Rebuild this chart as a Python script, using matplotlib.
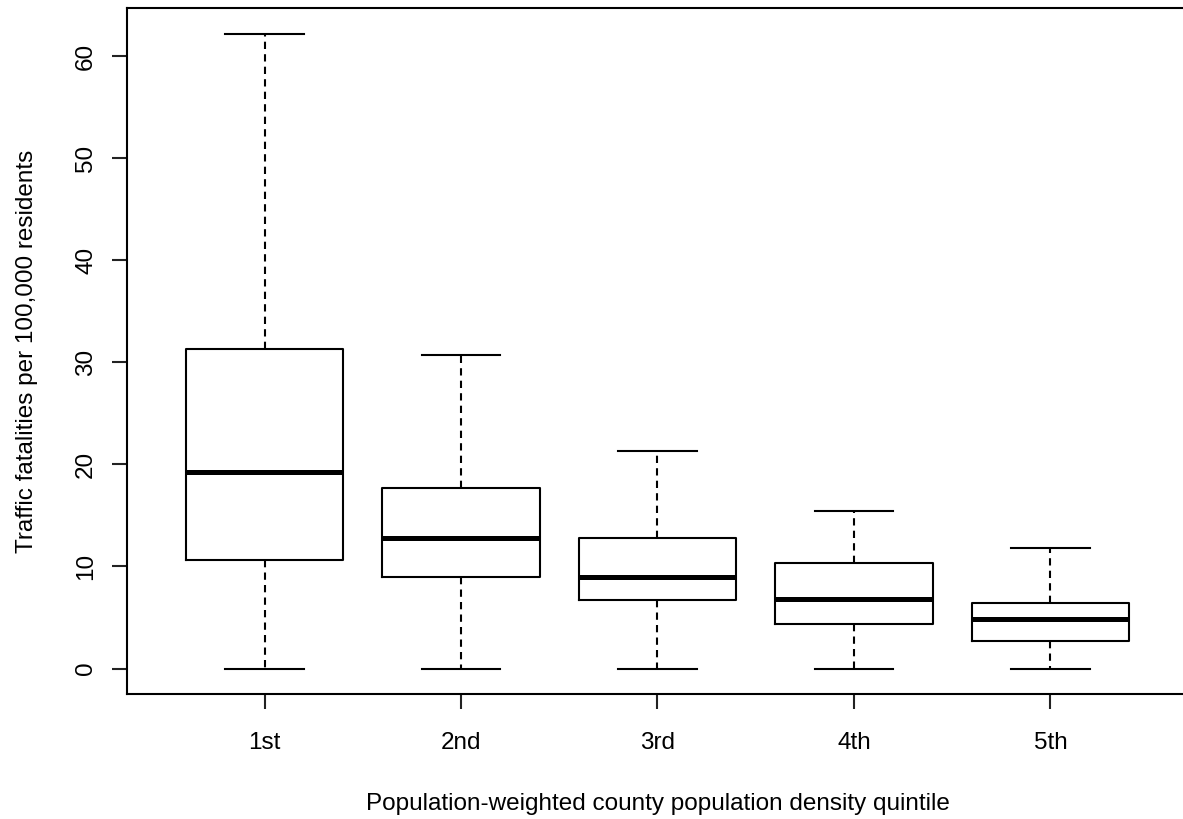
import matplotlib
matplotlib.use('Agg')
import matplotlib.pyplot as plt

# Quintile labels and box statistics
quintiles = ['1st', '2nd', '3rd', '4th', '5th']
whislo = [0, 0, 0, 0, 0]
q1 = [10.6, 9.0, 6.7, 4.4, 2.75]
med = [19.3, 12.75, 9.0, 6.8, 4.9]
q3 = [31.3, 17.7, 12.8, 10.3, 6.4]
whishi = [62.2, 30.7, 21.3, 15.4, 11.8]

plt.rcParams['font.family'] = ['Liberation Sans', 'DejaVu Sans']

fig = plt.figure(figsize=(11.83, 8.19), dpi=100)
ax = fig.add_axes([127 / 1183, 125 / 819, 1061 / 1183, 686 / 819])

stats = []
for i, lab in enumerate(quintiles):
    stats.append({'label': lab, 'whislo': whislo[i], 'q1': q1[i], 'med': med[i],
                  'q3': q3[i], 'whishi': whishi[i], 'fliers': []})

lw = 1.5
ax.bxp(stats, positions=range(1, 6), widths=0.8, capwidths=0.4,
       showfliers=False,
       boxprops=dict(color='black', linewidth=lw),
       medianprops=dict(color='black', linewidth=3.6, solid_capstyle='butt'),
       whiskerprops=dict(color='black', linewidth=lw, linestyle=(0, (3.5, 2.5))),
       capprops=dict(color='black', linewidth=lw))

ax.set_xlim(0.3, 5.7)
ax.set_ylim(-2.49, 64.7)
ax.set_yticks([0, 10, 20, 30, 40, 50, 60])
ax.set_yticklabels(['0', '10', '20', '30', '40', '50', '60'], rotation=90, va='center')
ax.set_xticks(range(1, 6))
ax.set_xticklabels(quintiles)

for s in ax.spines.values():
    s.set_linewidth(lw)
ax.tick_params(axis='both', length=10.5, width=lw, labelsize=17.5, color='#222222')
ax.tick_params(axis='x', pad=17)
ax.tick_params(axis='y', pad=11)

ax.set_xlabel('Population-weighted county population density quintile', fontsize=17.5,
              labelpad=28)
ax.set_ylabel('Traffic fatalities per 100,000 residents', fontsize=17.5, labelpad=27)

fig.savefig('out.png', dpi=100)
